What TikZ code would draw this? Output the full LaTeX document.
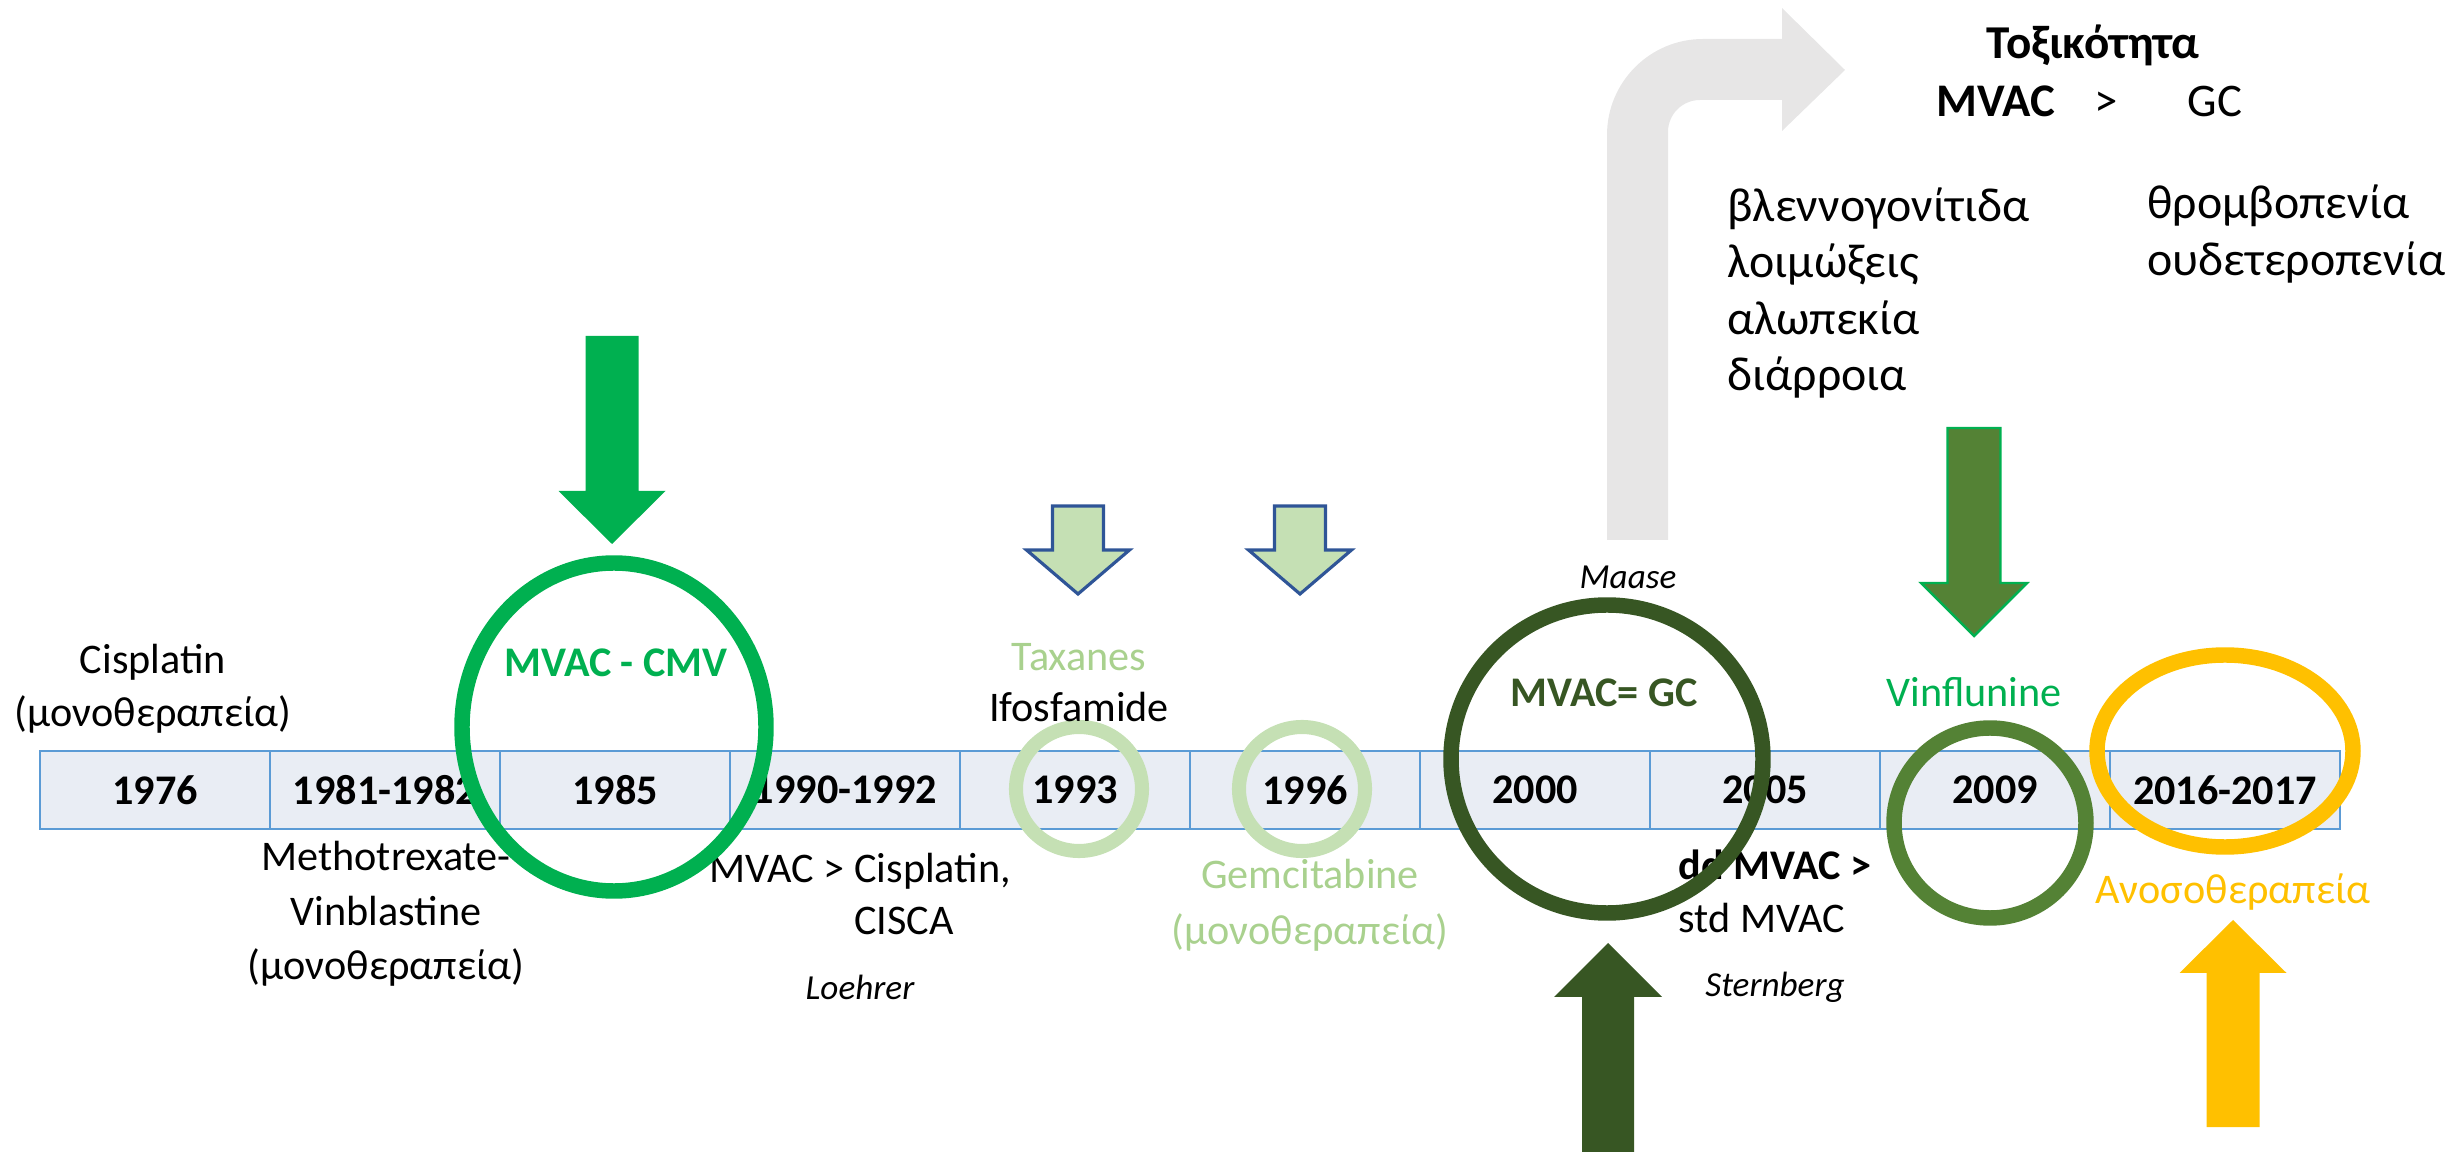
\documentclass[tikz,border=0pt]{standalone}
\usepackage{fontspec}
\setmainfont{Carlito}
\usetikzlibrary{positioning}

% block arrow: style, centre x, half shaft, half head, tail y, head base y, tip y
\newcommand{\blockarrow}[7]{\path[#1] ({#2-#3},#5) -- ({#2-#3},#6) -- ({#2-#4},#6) -- (#2,#7) -- ({#2+#4},#6) -- ({#2+#3},#6) -- ({#2+#3},#5) -- cycle;}

\begin{document}
\begin{tikzpicture}[x=0.01cm, y=-0.01cm,
  yearcell/.style={draw=barblue, fill=barfill, line width=0.75pt, minimum width=2.3cm, minimum height=0.78cm, inner sep=0pt},
  yearlbl/.style={inner sep=0pt, font=\fontsize{12}{14}\selectfont\bfseries},
  note/.style={inner sep=0pt, align=center, font=\fontsize{12}{15}\selectfont},
  cite/.style={inner sep=0pt, font=\fontsize{10}{12}\selectfont\itshape},
  tox/.style={inner sep=0pt, align=left, font=\fontsize{13.6}{16.1}\selectfont},
  ring/.style={draw=#1, line width=4.4pt}]

\definecolor{mvgreen}{RGB}{0, 176, 80}
\definecolor{palegreen}{RGB}{197, 224, 180}
\definecolor{softgreen}{RGB}{169, 209, 142}
\definecolor{darkgreen}{RGB}{55, 86, 35}
\definecolor{midgreen}{RGB}{84, 130, 53}
\definecolor{amber}{RGB}{255, 192, 0}
\definecolor{greyarrow}{RGB}{231, 230, 230}
\definecolor{barfill}{RGB}{233, 237, 244}
\definecolor{barblue}{RGB}{91, 155, 213}
\definecolor{outline}{RGB}{47, 85, 151}

\useasboundingbox (0,0) rectangle (2453,1152);

% Bent arrow towards toxicity
\fill[greyarrow] (1607,540) -- (1607,135) arc[start angle=180, end angle=270, radius=96]
  -- (1782,39) -- (1782,8) -- (1845,70) -- (1782,131) -- (1782,100) -- (1700,100)
  arc[start angle=270, end angle=180, radius=32] -- (1668,540) -- cycle;

% Timeline cells
\foreach \i in {0,...,9}
  \node[yearcell] (cell\i) at ({155+230*\i},790) {};

% Pale rings (under the years)
\draw[ring=palegreen, line width=4pt] (1079,789) ellipse[x radius=63, y radius=62];
\draw[ring=palegreen, line width=4pt] (1302,789) ellipse[x radius=63, y radius=62];

% Years
\foreach \yr [count=\i from 0] in {1976,1981-1982,1985,1990-1992,1993,1996,2000,2005,2009,2016-2017}
  \node[yearlbl] (year\i) at (cell\i) {\yr};

% Labels above and below the timeline
\node[note] (cisplatin) at (153,689) {Cisplatin\\(μονοθεραπεία)};
\node[note, text=mvgreen, font=\fontsize{12}{15}\selectfont\bfseries] (mvaccmv) at (616,663) {MVAC - CMV};
\node[note, font=\fontsize{12}{15.5}\selectfont] (methotrexate) at (386,914) {Methotrexate-\\Vinblastine\\(μονοθεραπεία)};
\node[note, align=left, anchor=west] (mvacgt) at (709,894) {MVAC > Cisplatin,\\\hphantom{MVAC > }CISCA};
\node[cite] (loehrer) at (860,987) {Loehrer};
\node[note, text=softgreen] (taxanes) at (1079,657) {Taxanes};
\node[note] (ifosfamide) at (1079,707) {Ifosfamide};
\node[note, text=softgreen, font=\fontsize{12}{16}\selectfont] (gemcitabine) at (1310,905) {Gemcitabine\\(μονοθεραπεία)};
\node[cite] (maase) at (1628,577) {Maase};
\node[note, text=darkgreen, font=\fontsize{12}{15}\selectfont\bfseries] (mvacgc) at (1604,693) {MVAC= GC};
\node[note, align=left, anchor=west] (ddmvac) at (1678,891) {\textbf{dd MVAC >}\\std MVAC};
\node[cite] (sternberg) at (1775,987) {Sternberg};
\node[note, text=mvgreen] (vinflunine) at (1974,692) {Vinflunine};
\node[note, text=amber] (immuno) at (2233,892) {Ανοσοθεραπεία};

% Toxicity
\node[note, font=\fontsize{13.4}{15}\selectfont\bfseries] (toxtitle) at (2093,45) {Τοξικότητα};
\node[note, anchor=west, font=\fontsize{13.3}{15}\selectfont] (toxcmp) at (1936,101) {\textbf{MVAC}\hspace{0.39cm}>\hspace{0.7cm}GC};
\node[tox, anchor=west] (toxmvac) at (1727,293) {βλεννογονίτιδα\\λοιμώξεις\\αλωπεκία\\διάρροια};
\node[tox, anchor=west] (toxgc) at (2147,234) {θρομβοπενία\\ουδετεροπενία};

% Rings
\draw[ring=mvgreen] (614,727) ellipse[x radius=152, y radius=164];
\draw[ring=darkgreen] (1607,759) ellipse[x radius=156, y radius=154];
\draw[ring=midgreen] (1990,823) ellipse[x radius=96, y radius=95];
\draw[ring=amber] (2225,751) ellipse[x radius=128, y radius=96];

% Block arrows
\blockarrow{fill=mvgreen}{612}{26.5}{53.5}{336}{491}{544}
\blockarrow{fill=palegreen, draw=outline, line width=0.9pt}{1078}{25.5}{51.5}{506}{550}{594}
\blockarrow{fill=palegreen, draw=outline, line width=0.9pt}{1300}{25.5}{51.5}{506}{550}{594}
\blockarrow{fill=midgreen, draw=mvgreen, line width=0.7pt}{1974}{26.5}{53}{428}{583}{636}
\blockarrow{fill=darkgreen}{1608}{26}{54}{1152}{997}{943}
\blockarrow{fill=amber}{2233}{26.5}{53.5}{1127}{973}{920}

\end{tikzpicture}
\end{document}
